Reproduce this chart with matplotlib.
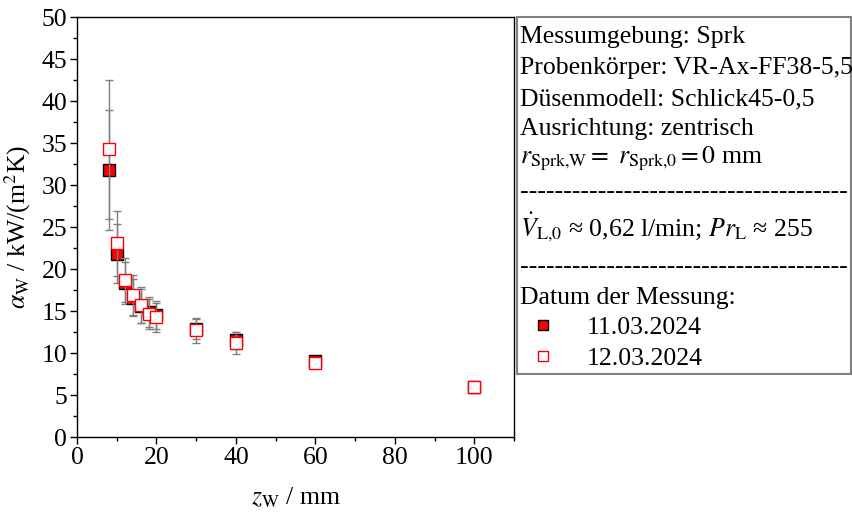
"""
Heat transfer coefficient alpha_W vs. nozzle distance z_W for two measurement days.
"""

import numpy as np
import matplotlib.pyplot as plt
from matplotlib.lines import Line2D
from matplotlib.patches import Rectangle
from matplotlib.ticker import MultipleLocator

plt.rcParams['font.family'] = ['Liberation Serif', 'DejaVu Serif']
plt.rcParams['mathtext.fontset'] = 'stix'
plt.rcParams['font.size'] = 18.5

# ── Data ──────────────────────────────────────────────────────────────────────
z_W = [8, 10, 12, 14, 16, 18, 20, 30, 40, 60, 100]

alpha_1103 = [31.75, 21.8, 18.3, 16.6, 15.6, 14.9, 14.5, 12.9, 11.5, 9.1, 6.0]
err_1103   = [7.15, 3.5, 2.5, 2.2, 2.0, 1.8, 1.7, 1.2, 1.0, 0.4, 0.2]

alpha_1203 = [34.25, 23.05, 18.7, 16.9, 15.7, 14.6, 14.25, 12.7, 11.2, 8.8, 6.0]
err_1203   = [8.3, 3.9, 2.6, 2.4, 2.1, 1.8, 1.7, 1.5, 1.3, 0.5, 0.2]

dates = ['11.03.2024', '12.03.2024']

info_lines = [
    'Messumgebung: Sprk',
    'Probenkörper: VR-Ax-FF38-5,5',
    'Düsenmodell: Schlick45-0,5',
    'Ausrichtung: zentrisch',
    r'$r_{\mathrm{Sprk{,}W}} =\ r_{\mathrm{Sprk{,}0}} = 0$ mm',
]
flow_line = r'$\dot{V}_{\mathrm{L{,}0}}$ ≈ 0,62 l/min; $Pr_{\mathrm{L}}$ ≈ 255'
legend_title = 'Datum der Messung:'

FS = 18.5

# ── Figure ────────────────────────────────────────────────────────────────────
fig = plt.figure(figsize=(8.52, 5.15), dpi=100)
ax = fig.add_axes([77 / 852, 1 - 437 / 515, (514 - 77) / 852, (437 - 17) / 515])

err_kw = dict(ecolor='#808080', elinewidth=1.0, capsize=3, capthick=1.0,
              linestyle='none', marker='s', markersize=8)
ax.errorbar(z_W, alpha_1103, yerr=err_1103, mfc='red', mec='black',
            mew=1.0, zorder=3, **err_kw)
ax.errorbar(z_W, alpha_1203, yerr=err_1203, mfc='white', mec='red',
            mew=1.0, zorder=4, **err_kw)

ax.set_xlim(0, 110)
ax.set_ylim(0, 50)
ax.xaxis.set_major_locator(MultipleLocator(20))
ax.xaxis.set_minor_locator(MultipleLocator(10))
ax.yaxis.set_major_locator(MultipleLocator(5))
ax.yaxis.set_minor_locator(MultipleLocator(2.5))
ax.tick_params(which='major', direction='out', length=5, width=1, pad=2)
ax.tick_params(which='minor', direction='out', length=3, width=1)
ax.tick_params(labelsize=FS)
for s in ax.spines.values():
    s.set_linewidth(1.0)

ax.set_xlabel(r'$z_{\mathrm{W}}$ / mm', fontsize=FS, labelpad=12)
ax.set_ylabel(r'$\alpha_{\mathrm{W}}$ / kW/(m$^2$K)', fontsize=FS, labelpad=6)

# ── Info box on the right ─────────────────────────────────────────────────────
W, H = 852, 515
box = Rectangle((517 / W, 1 - 374 / H), (851 - 517) / W, (374 - 17) / H,
                transform=fig.transFigure, fill=False, edgecolor='#808080',
                linewidth=1.5)
fig.add_artist(box)

tx = 520 / W
for line, y in zip(info_lines, [37, 68, 99, 129, 159]):
    fig.text(tx, 1 - y / H, line, ha='left', va='center', fontsize=FS)
dashes = '-' * 38
fig.text(tx, 1 - 192 / H, dashes, ha='left', va='center', fontsize=FS)
fig.text(tx, 1 - 227 / H, flow_line, ha='left', va='center', fontsize=FS)
fig.text(tx, 1 - 267 / H, dashes, ha='left', va='center', fontsize=FS)
fig.text(tx, 1 - 298 / H, legend_title, ha='left', va='center', fontsize=FS)

handles = [
    Line2D([], [], linestyle='none', marker='s', markersize=6.5,
           mfc='red', mec='black', mew=1.0),
    Line2D([], [], linestyle='none', marker='s', markersize=6.5,
           mfc='white', mec='red', mew=1.0),
]
fig.legend(handles, dates, loc='upper left',
           bbox_to_anchor=(530 / W, 1 - 316 / H), frameon=False,
           fontsize=FS, handlelength=1.0, handletextpad=1.2,
           labelspacing=0.3, borderpad=0, borderaxespad=0)

fig.savefig('out.png', dpi=100)
